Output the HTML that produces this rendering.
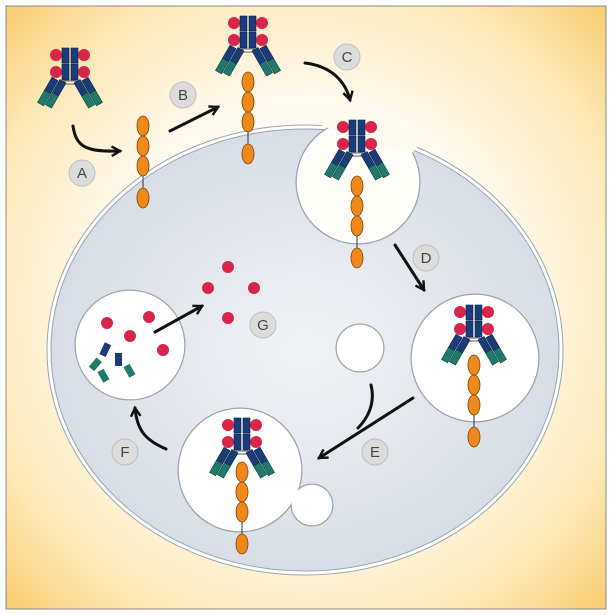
<!DOCTYPE html>
<html><head><meta charset="utf-8"><style>
html,body{margin:0;padding:0;background:#fff}
svg{display:block}
text{font-family:"Liberation Sans",sans-serif;font-size:15px;fill:#444}
</style></head><body>
<svg width="612" height="615" viewBox="0 0 612 615" xmlns="http://www.w3.org/2000/svg">
<defs>
<radialGradient id="bg" cx="50%" cy="50%" r="75%">
<stop offset="0" stop-color="#ffffff"/>
<stop offset="0.45" stop-color="#fffaf0"/>
<stop offset="0.75" stop-color="#fde7b4"/>
<stop offset="1" stop-color="#f8c35a"/>
</radialGradient>
<radialGradient id="cell" cx="50%" cy="50%" r="60%">
<stop offset="0" stop-color="#f1f3f6"/>
<stop offset="1" stop-color="#d3d9e2"/>
</radialGradient>
<g id="arm">
<rect x="-7" y="0" width="7" height="15" fill="#1a3c78" stroke="#0b1f44" stroke-width="0.6"/>
<rect x="-7" y="15" width="7" height="14" fill="#1f7a6d" stroke="#0b3f38" stroke-width="0.6"/>
<rect x="-15" y="2" width="7" height="15" fill="#1a3c78" stroke="#0b1f44" stroke-width="0.6"/>
<rect x="-15" y="17" width="7" height="14" fill="#1f7a6d" stroke="#0b3f38" stroke-width="0.6"/>
</g>
<g id="ab">
<circle cx="-14" cy="7" r="6" fill="#d8264a"/>
<circle cx="14" cy="7" r="6" fill="#d8264a"/>
<circle cx="-14" cy="24" r="6" fill="#d8264a"/>
<circle cx="14" cy="24" r="6" fill="#d8264a"/>
<rect x="-8" y="0" width="7" height="15" fill="#1a3c78" stroke="#0b1f44" stroke-width="0.6"/>
<rect x="1" y="0" width="7" height="15" fill="#1a3c78" stroke="#0b1f44" stroke-width="0.6"/>
<rect x="-8" y="16" width="7" height="16" fill="#1a3c78" stroke="#0b1f44" stroke-width="0.6"/>
<rect x="1" y="16" width="7" height="16" fill="#1a3c78" stroke="#0b1f44" stroke-width="0.6"/>
<rect x="-6" y="33" width="12" height="3" fill="#fff" stroke="#333" stroke-width="0.8"/>
<use href="#arm" transform="translate(-4,35) rotate(30)"/>
<use href="#arm" transform="translate(4,35) scale(-1,1) rotate(30)"/>
</g>
<g id="chain">
<ellipse cx="0" cy="10" rx="6" ry="10" fill="#ef8a1a" stroke="#7a4208" stroke-width="0.8"/>
<ellipse cx="0" cy="30" rx="6" ry="10" fill="#ef8a1a" stroke="#7a4208" stroke-width="0.8"/>
<ellipse cx="0" cy="50" rx="6" ry="10" fill="#ef8a1a" stroke="#7a4208" stroke-width="0.8"/>
<line x1="0" y1="60" x2="0" y2="72" stroke="#333" stroke-width="1"/>
<ellipse cx="0" cy="82" rx="6" ry="10" fill="#ef8a1a" stroke="#7a4208" stroke-width="0.8"/>
</g>
<marker id="ah" viewBox="0 0 10 10" refX="8" refY="5" markerWidth="4" markerHeight="4" orient="auto">
<path d="M1,1 L8,5 L1,9" fill="none" stroke="#111" stroke-width="2"/>
</marker>
</defs>
<rect x="0" y="0" width="612" height="615" fill="#fff"/>
<rect x="6" y="6" width="600" height="603" fill="url(#bg)" stroke="#888" stroke-width="1"/>

<!-- cell -->
<ellipse cx="305" cy="350" rx="256" ry="223" fill="url(#cell)" stroke="#9aa3ad" stroke-width="5"/>
<ellipse cx="305" cy="350" rx="256" ry="223" fill="none" stroke="#fff" stroke-width="3"/>

<!-- invagination C -->
<circle cx="358" cy="182" r="60" fill="#fffdf8" stroke="#9aa3ad" stroke-width="5"/>
<circle cx="358" cy="182" r="60" fill="#fffdf8" stroke="#fff" stroke-width="2.5"/>
<polygon points="318,124 340,104 380,104 425,138 412,153 360,140" fill="#fffaf0"/>

<!-- vesicles: gray layer -->
<g fill="#fff" stroke="#9aa3ad" stroke-width="5">
<circle cx="475" cy="358" r="62"/>
<circle cx="312" cy="505" r="19"/>
<circle cx="240" cy="470" r="60"/>
<circle cx="130" cy="345" r="53"/>
<circle cx="360" cy="348" r="22"/>
</g>
<g fill="#fff" stroke="#fff" stroke-width="2.5">
<circle cx="475" cy="358" r="62"/>
<circle cx="312" cy="505" r="19"/>
<circle cx="240" cy="470" r="60"/>
<circle cx="130" cy="345" r="53"/>
<circle cx="360" cy="348" r="22"/>
</g>
<circle cx="312" cy="505" r="17" fill="#fff"/>

<!-- antibodies & chains -->
<use href="#ab" transform="translate(70,48)"/>
<use href="#chain" transform="translate(143,116)"/>
<use href="#ab" transform="translate(248,16)"/>
<use href="#chain" transform="translate(248,72)"/>
<use href="#ab" transform="translate(357,120)"/>
<use href="#chain" transform="translate(357,176)"/>
<use href="#ab" transform="translate(474,305)"/>
<use href="#chain" transform="translate(474,355)"/>
<use href="#ab" transform="translate(242,418)"/>
<use href="#chain" transform="translate(242,462)"/>

<!-- free dots G -->
<circle cx="228" cy="267" r="6" fill="#d8264a"/>
<circle cx="208" cy="288" r="6" fill="#d8264a"/>
<circle cx="254" cy="288" r="6" fill="#d8264a"/>
<circle cx="228" cy="318" r="6" fill="#d8264a"/>

<!-- F vesicle contents -->
<circle cx="107" cy="323" r="6" fill="#d8264a"/>
<circle cx="149" cy="317" r="6" fill="#d8264a"/>
<circle cx="130" cy="336" r="6" fill="#d8264a"/>
<circle cx="163" cy="350" r="6" fill="#d8264a"/>
<rect x="102" y="343" width="7" height="13" fill="#1a3c78" transform="rotate(25 105 349)"/>
<rect x="115" y="353" width="7" height="13" fill="#1a3c78"/>
<rect x="92" y="358" width="7" height="12" fill="#1f7a6d" transform="rotate(40 95 364)"/>
<rect x="100" y="370" width="7" height="12" fill="#1f7a6d" transform="rotate(-30 103 376)"/>
<rect x="126" y="365" width="7" height="12" fill="#1f7a6d" transform="rotate(-30 129 371)"/>

<!-- arrows -->
<g fill="none" stroke="#111" stroke-width="3" stroke-linecap="round">
<path d="M73,126 C76,148 88,152 120,151" marker-end="url(#ah)"/>
<path d="M170,131 L218,107" marker-end="url(#ah)"/>
<path d="M305,63 C330,66 345,80 350,100" marker-end="url(#ah)"/>
<path d="M395,245 L424,290" marker-end="url(#ah)"/>
<path d="M413,398 L319,458" marker-end="url(#ah)"/>
<path d="M371,385 C376,405 366,420 358,428"/>
<path d="M166,449 C145,440 137,430 135,408" marker-end="url(#ah)"/>
<path d="M155,332 L202,306" marker-end="url(#ah)"/>
</g>

<!-- labels -->
<g fill="#dcdcdc" stroke="#bdbdbd" stroke-width="1">
<circle cx="82" cy="173" r="13"/>
<circle cx="183" cy="95" r="13"/>
<circle cx="347" cy="57" r="13"/>
<circle cx="426" cy="258" r="13"/>
<circle cx="375" cy="452" r="13"/>
<circle cx="125" cy="452" r="13"/>
<circle cx="263" cy="325" r="13"/>
</g>
<g text-anchor="middle">
<text x="82" y="178">A</text>
<text x="183" y="100">B</text>
<text x="347" y="62">C</text>
<text x="426" y="263">D</text>
<text x="375" y="457">E</text>
<text x="125" y="457">F</text>
<text x="263" y="330">G</text>
</g>
</svg>
</body></html>
